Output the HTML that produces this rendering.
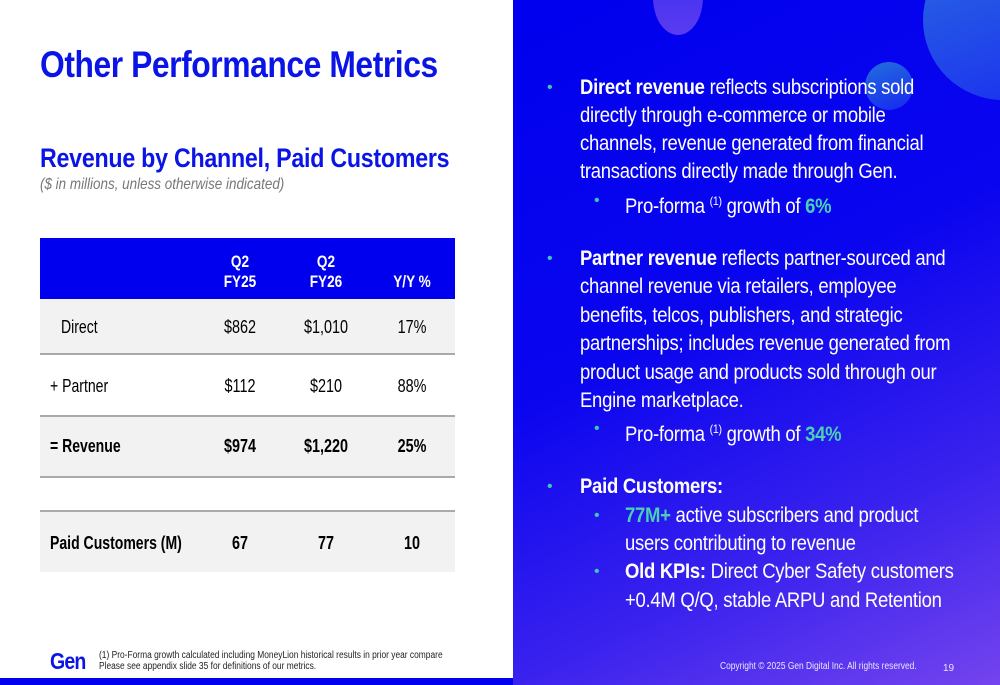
<!DOCTYPE html>
<html><head><meta charset="utf-8"><style>
*{margin:0;padding:0;box-sizing:border-box}
body{width:1000px;height:685px;position:relative;overflow:hidden;background:#fff;font-family:"Liberation Sans",sans-serif}
.abs{position:absolute;white-space:nowrap}
#right{position:absolute;left:513px;top:0;width:487px;height:685px;background:linear-gradient(155deg,#0000ee 0%,#0a05ef 45%,#3a22ee 75%,#7444ee 100%);overflow:hidden}
.ln{position:absolute;white-space:nowrap;color:#fff;font-size:21px;line-height:28px;letter-spacing:-0.3px;transform:scaleX(0.88);transform-origin:left center}
.b{position:absolute;color:#3cc8b4;font-size:16px;line-height:28px}
.g{color:#4ad0b4;font-weight:bold}
.row{position:absolute;left:40px;width:415px}
.c{position:absolute;width:100px;text-align:center;transform:translateX(-50px) scaleX(0.8)}
.lab{position:absolute;white-space:nowrap;transform:scaleX(0.78);transform-origin:left center}
</style></head><body>
<div class="abs" style="left:40px;top:44px;font-size:37px;font-weight:bold;color:#0a14e6;letter-spacing:-0.5px;transform:scaleX(0.86);transform-origin:left">Other Performance Metrics</div>
<div class="abs" style="left:40px;top:143px;font-size:27px;font-weight:bold;color:#0a14e6;letter-spacing:-0.3px;transform:scaleX(0.86);transform-origin:left">Revenue by Channel, Paid Customers</div>
<div class="abs" style="left:40px;top:176px;font-size:16px;font-style:italic;color:#777;transform:scaleX(0.84);transform-origin:left">($ in millions, unless otherwise indicated)</div>

<div>
<div class="row" style="top:238px;height:61px;background:#0000ee;color:#fff;font-weight:bold;font-size:17px">
 <div class="c" style="left:200px;top:14px;line-height:20px">Q2<br>FY25</div>
 <div class="c" style="left:286px;top:14px;line-height:20px">Q2<br>FY26</div>
 <div class="c" style="left:372px;top:34px;line-height:20px">Y/Y %</div>
</div>
<div class="row" style="top:299px;height:56px;background:#f2f2f2;border-bottom:2px solid #aaa;font-size:18px;line-height:56px">
 <div class="lab" style="left:21px">Direct</div><div class="c" style="left:200px">$862</div><div class="c" style="left:286px">$1,010</div><div class="c" style="left:372px">17%</div>
</div>
<div class="row" style="top:357px;height:60px;background:#fff;border-bottom:2px solid #aaa;font-size:18px;line-height:58px">
 <div class="lab" style="left:10px">+ Partner</div><div class="c" style="left:200px">$112</div><div class="c" style="left:286px">$210</div><div class="c" style="left:372px">88%</div>
</div>
<div class="row" style="top:417px;height:61px;background:#f2f2f2;border-bottom:2px solid #aaa;font-size:18px;line-height:59px;font-weight:bold">
 <div class="lab" style="left:10px">= Revenue</div><div class="c" style="left:200px">$974</div><div class="c" style="left:286px">$1,220</div><div class="c" style="left:372px">25%</div>
</div>
<div class="row" style="top:510px;height:62px;background:#f2f2f2;border-top:2px solid #aaa;font-size:18px;line-height:62px;font-weight:bold">
 <div class="lab" style="left:10px">Paid Customers (M)</div><div class="c" style="left:200px">67</div><div class="c" style="left:286px">77</div><div class="c" style="left:372px">10</div>
</div>
</div>

<div class="abs" style="left:50px;top:648px;font-size:23px;font-weight:bold;color:#0a14e6;letter-spacing:-1px;transform:scaleX(0.85);transform-origin:left">Gen</div>
<div class="abs" style="left:99px;top:650px;font-size:10px;line-height:11px;color:#222;transform:scaleX(0.84);transform-origin:left">(1) Pro-Forma growth calculated including MoneyLion historical results in prior year compare<br>Please see appendix slide 35 for definitions of our metrics.</div>
<div class="abs" style="left:0;top:678px;width:513px;height:7px;background:#0000ee"></div>

<div id="right">
 <div class="abs" style="left:140px;top:-40px;width:50px;height:75px;border-radius:50%;background:linear-gradient(180deg,#3a2cf0,#5a3cf0)"></div>
 <div class="abs" style="left:410px;top:-60px;width:160px;height:160px;border-radius:50%;background:linear-gradient(160deg,#2a6ae0,#1a2ef0)"></div>
 <div class="abs" style="left:352px;top:62px;width:48px;height:48px;border-radius:50%;background:linear-gradient(160deg,#2a8ad8,#1a30f0);opacity:.8"></div>

 <div class="b" style="left:34px;top:74px">•</div>
 <div class="ln" style="left:67px;top:74px"><b>Direct revenue</b> reflects subscriptions sold</div>
 <div class="ln" style="left:67px;top:102px">directly through e-commerce or mobile</div>
 <div class="ln" style="left:67px;top:130px">channels, revenue generated from financial</div>
 <div class="ln" style="left:67px;top:158px">transactions directly made through Gen.</div>
 <div class="b" style="left:81px;top:187px">•</div>
 <div class="ln" style="left:112px;top:187px">Pro-forma <sup style="font-size:12px">(1)</sup> growth of <span class="g">6%</span></div>

 <div class="b" style="left:34px;top:245px">•</div>
 <div class="ln" style="left:67px;top:245px"><b>Partner revenue</b> reflects partner-sourced and</div>
 <div class="ln" style="left:67px;top:273px">channel revenue via retailers, employee</div>
 <div class="ln" style="left:67px;top:302px">benefits, telcos, publishers, and strategic</div>
 <div class="ln" style="left:67px;top:330px">partnerships; includes revenue generated from</div>
 <div class="ln" style="left:67px;top:359px">product usage and products sold through our</div>
 <div class="ln" style="left:67px;top:387px">Engine marketplace.</div>
 <div class="b" style="left:81px;top:415px">•</div>
 <div class="ln" style="left:112px;top:415px">Pro-forma <sup style="font-size:12px">(1)</sup> growth of <span class="g">34%</span></div>

 <div class="b" style="left:34px;top:473px">•</div>
 <div class="ln" style="left:67px;top:473px"><b>Paid Customers:</b></div>
 <div class="b" style="left:81px;top:502px">•</div>
 <div class="ln" style="left:112px;top:502px"><span class="g">77M+</span> active subscribers and product</div>
 <div class="ln" style="left:112px;top:530px">users contributing to revenue</div>
 <div class="b" style="left:81px;top:558px">•</div>
 <div class="ln" style="left:112px;top:558px"><b>Old KPIs:</b> Direct Cyber Safety customers</div>
 <div class="ln" style="left:112px;top:587px">+0.4M Q/Q, stable ARPU and Retention</div>

 <div class="abs" style="left:207px;top:661px;font-size:10px;color:#e8e8ff;transform:scaleX(0.84);transform-origin:left">Copyright © 2025 Gen Digital Inc. All rights reserved.</div>
 <div class="abs" style="left:430px;top:663px;font-size:10px;color:#e8e8ff">19</div>
</div>
</body></html>
